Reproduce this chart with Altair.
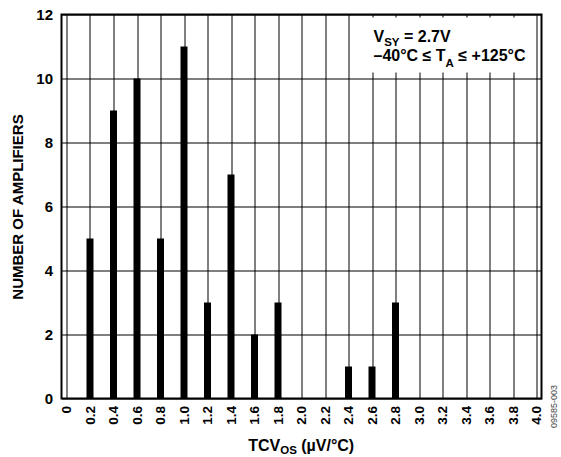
import altair as alt
import pandas as pd

# Data
tcv_bins = [0.2, 0.4, 0.6, 0.8, 1.0, 1.2, 1.4, 1.6, 1.8, 2.0, 2.2, 2.4, 2.6, 2.8,
            3.0, 3.2, 3.4, 3.6, 3.8]
counts = [5, 9, 10, 5, 11, 3, 7, 2, 3, 0, 0, 1, 1, 3, 0, 0, 0, 0, 0]
x_ticks = [round(i * 0.2, 1) for i in range(21)]
y_ticks = [0, 2, 4, 6, 8, 10, 12]

df = pd.DataFrame({"tcv": tcv_bins, "n": counts})
one = pd.DataFrame({"k": [0]})

FONT = "Liberation Sans"
SP = 4.45  # width of a bold space at 16px

bars = alt.Chart(df).mark_bar(size=7, color="black").encode(
    x=alt.X("tcv:Q",
            scale=alt.Scale(domain=[0, 4], nice=False),
            axis=alt.Axis(values=x_ticks,
                          labelExpr="datum.value == 0 ? '0' : format(datum.value, '.1f')",
                          labelAngle=270, labelFontSize=13.5, labelFontWeight="bold",
                          labelPadding=7, ticks=False, domain=False,
                          grid=True, gridColor="black", gridOpacity=1, gridWidth=1,
                          labelColor="black", labelFont=FONT, title=None)),
    y=alt.Y("n:Q",
            scale=alt.Scale(domain=[0, 12], nice=False),
            axis=alt.Axis(values=y_ticks, labelFontSize=15, labelFontWeight="bold",
                          labelPadding=9, ticks=False, domain=False,
                          grid=True, gridColor="black", gridOpacity=1, gridWidth=1,
                          labelColor="black", labelFont=FONT,
                          title="NUMBER OF AMPLIFIERS", titleFontSize=15,
                          titleFont=FONT, titleFontWeight="bold", titleColor="black",
                          titlePadding=10)),
)


def txt(s, x, y, size=16, weight="bold", color="black", angle=0, align="left",
        baseline="alphabetic"):
    kw = dict(text=s, fontSize=size, fontWeight=weight, font=FONT, color=color,
              align=align, baseline=baseline)
    if angle:
        kw["angle"] = angle
    return alt.Chart(one).mark_text(**kw).encode(x=alt.value(x), y=alt.value(y))


box = alt.Chart(one).mark_rect(color="white").encode(
    x=alt.value(309), x2=alt.value(467), y=alt.value(3), y2=alt.value(58))

layers = [
    bars, box,
    txt("V", 312, 27.7),
    txt("SY", 322.7, 31, size=11.5),
    txt("= 2.7V", 338 + SP, 27.7),
    txt("–40°C ≤ T", 312, 46),
    txt("A", 384.1, 52, size=11.5),
    txt("≤ +125°C", 392.4 + SP, 46),
    txt("TCV", 186.7, 436),
    txt("OS", 218.7, 439, size=11.5),
    txt("(µV/°C)", 235.3 + SP, 436),
    txt("09585-003", 492, 392, size=9, weight="normal", color="#444", angle=270,
        align="center", baseline="middle"),
]

chart = alt.layer(*layers).properties(
    width=480, height=384,
    autosize=alt.AutoSizeParams(type="none"),
    padding={"left": 61.5, "top": 14.5, "right": 19.5, "bottom": 58.5},
    background="white",
).configure_view(stroke="black", strokeWidth=2)

chart.save("out.html", embed_options={"renderer": "svg", "actions": False})
